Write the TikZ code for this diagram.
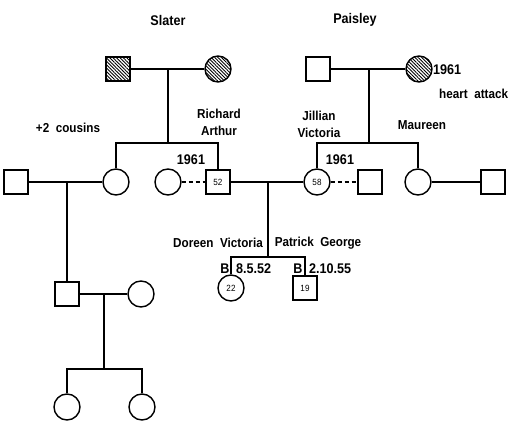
\documentclass[tikz,border=0pt]{standalone}
\usepackage{fontspec}
\setmainfont{Liberation Sans}[FakeStretch=0.9]
\usetikzlibrary{patterns,patterns.meta}
\begin{document}
\begin{tikzpicture}[x=1pt,y=-1pt,
  line width=2.3pt,
  male/.style={draw,line width=1.4pt,minimum size=24pt,inner sep=0pt,fill=white,font=\fontsize{9}{10}\selectfont},
  female/.style={draw,circle,line width=1.4pt,minimum size=26pt,inner sep=0pt,fill=white,font=\fontsize{9}{10}\selectfont},
  hatch/.style={pattern={Lines[angle=-45,distance=2.4pt,line width=0.9pt]}},
  lbl/.style={font=\bfseries\fontsize{14}{15}\selectfont,inner sep=0pt},
  small/.style={font=\bfseries\fontsize{13}{17}\selectfont,inner sep=0pt,align=center}]
\useasboundingbox (0,0) rectangle (531,430);
% top generation
\node[lbl] (tSlater) at (168,20) {Slater};
\node[lbl] (tPaisley) at (355,20) {Paisley};
\coordinate (mS) at (168,69);
\coordinate (mP) at (369,69);
\node[male,hatch] (gfS) at (118,69) {};
\node[female,hatch] (gmS) at (218,69) {};
\draw (gfS) -- (gmS);
\node[male] (gfP) at (318,69) {};
\node[female,hatch] (gmP) at (419,69) {};
\draw (gfP) -- (gmP);
\node[lbl,anchor=west] (t1961a) at (432,70) {1961};
\node[small,anchor=west] (tha) at (438,94) {heart~~attack};
% second generation
\node[male] (m1) at (16,182) {};
\node[female] (aunt) at (116,182) {};
\node[female] (ex1) at (168,182) {};
\node[male] (rich) at (218,182) {52};
\node[female] (jill) at (317,182) {58};
\node[male] (ex2) at (370,182) {};
\node[female] (maur) at (418,182) {};
\node[male] (m2) at (493,182) {};
\coordinate (bS) at (168,143);
\coordinate (bP) at (369,143);
\draw (mS) -- (bS);
\draw (mP) -- (bP);
\draw (aunt.north) |- (bS) -| (rich.north);
\draw (jill.north) |- (bP) -| (maur.north);
\draw (m1) -- (aunt);
\draw (rich) -- (jill);
\draw (maur) -- (m2);
\draw[dashed,dash pattern=on 4pt off 3pt] (ex1) -- (rich);
\draw[dashed,dash pattern=on 4pt off 3pt] (jill) -- (ex2);
\node[small] (tcous) at (68,128) {+2~~cousins};
\node[small] (trich) at (219,122) {Richard\\Arthur};
\node[small] (tjill) at (319,124) {Jillian\\Victoria};
\node[small] (tmaur) at (422,125) {Maureen};
\node[lbl] (t1961b) at (191,160) {1961};
\node[lbl] (t1961c) at (340,160) {1961};
% third generation (main)
\coordinate (mRJ) at (268,182);
\coordinate (bRJ) at (268,257);
\node[female] (dor) at (231,288) {22};
\node[male] (pat) at (305,288) {19};
\draw (mRJ) -- (bRJ);
\draw (dor.north) |- (bRJ) -| (pat.north);
\node[small] (tdor) at (218,243) {Doreen~~Victoria};
\node[small] (tpat) at (318,243) {Patrick~~George};
\node[lbl] (tb1) at (225,269) {B};
\node[lbl,anchor=west] (td1) at (235,269) {8.5.52};
\node[lbl] (tb2) at (298,269) {B};
\node[lbl,anchor=west] (td2) at (308,269) {2.10.55};
% cousin line
\coordinate (mA) at (67,182);
\node[male] (cous) at (67,294) {};
\node[female] (cw) at (141,294) {};
\draw (mA) -- (cous.north);
\draw (cous) -- (cw);
\coordinate (mC) at (104,294);
\coordinate (bC) at (104,369);
\node[female] (k1) at (67,407) {};
\node[female] (k2) at (142,407) {};
\draw (mC) -- (bC);
\draw (k1.north) |- (bC) -| (k2.north);
\end{tikzpicture}
\end{document}
